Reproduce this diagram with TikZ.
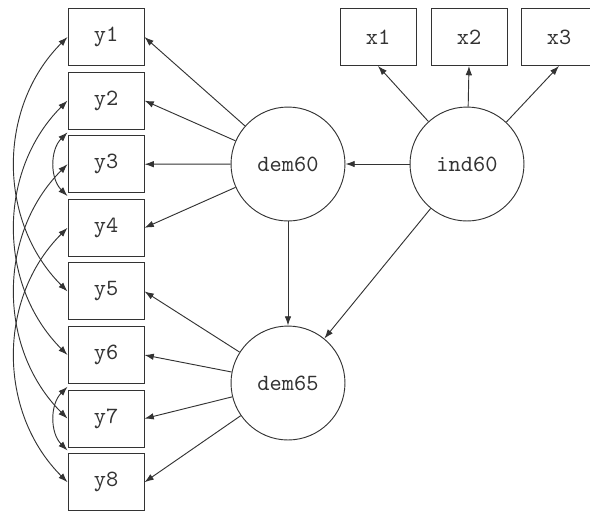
\documentclass[tikz,border=0pt]{standalone}
\usetikzlibrary{arrows.meta}
\begin{document}
\begin{tikzpicture}[x=0.43pt,y=-0.43pt,
  obs/.style={draw=black!80, minimum width=32.7pt, minimum height=24.5pt, inner sep=0pt, font=\ttfamily, text=black!80},
  lat/.style={draw=black!80, circle, minimum size=49pt, inner sep=0pt, font=\ttfamily, text=black!80},
  arr/.style={draw=black!80, -{Latex[length=4pt,width=2.8pt]}},
  cov/.style={draw=black!80, {Latex[length=4pt,width=2.8pt]}-{Latex[length=4pt,width=2.8pt]}, bend right=45}]
\useasboundingbox (0,0) rectangle (590,511);
\node[obs] (y1) at (106,37) {y1};
\node[obs] (y2) at (106,100.6) {y2};
\node[obs] (y3) at (106,164.2) {y3};
\node[obs] (y4) at (106,227.8) {y4};
\node[obs] (y5) at (106,291.4) {y5};
\node[obs] (y6) at (106,355) {y6};
\node[obs] (y7) at (106,418.6) {y7};
\node[obs] (y8) at (106,482.2) {y8};
\node[obs] (x1) at (378,37) {x1};
\node[obs] (x2) at (469,37) {x2};
\node[obs] (x3) at (559,37) {x3};
\node[lat] (dem60) at (288,164) {dem60};
\node[lat] (ind60) at (467,164) {ind60};
\node[lat] (dem65) at (288,383) {dem65};
\foreach \i in {1,2,3,4} \draw[arr] (dem60) -- (y\i.east);
\foreach \i in {5,6,7,8} \draw[arr] (dem65) -- (y\i.east);
\foreach \i in {1,2,3} \draw[arr] (ind60) -- (x\i.south);
\draw[arr] (ind60) -- (dem60);
\draw[arr] (dem60) -- (dem65);
\draw[arr] (ind60) -- (dem65);
\draw[cov] (y1.west) to (y5.west);
\draw[cov] (y2.west) to (y6.west);
\draw[cov] (y3.west) to (y7.west);
\draw[cov] (y4.west) to (y8.west);
\draw[cov] ([yshift=-1.2pt]y2.south west) to ([yshift=1.2pt]y4.north west);
\draw[cov] ([yshift=-1.2pt]y6.south west) to ([yshift=1.2pt]y8.north west);
\end{tikzpicture}
\end{document}
